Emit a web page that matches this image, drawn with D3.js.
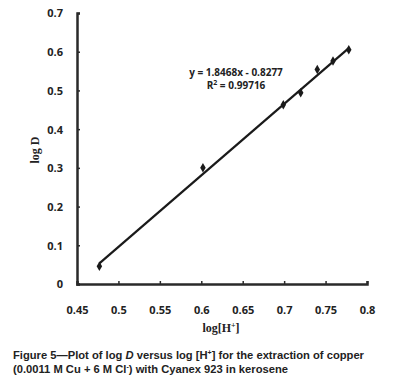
<!DOCTYPE html>
<html><head><meta charset="utf-8">
<script src="https://cdn.jsdelivr.net/npm/d3@7"></script>
<style>body{margin:0;background:#fff}svg{display:block}</style>
</head><body>
<script>
const xValues = [0.477, 0.602, 0.699, 0.720, 0.740, 0.759, 0.778];
const yValues = [0.046, 0.300, 0.463, 0.494, 0.554, 0.576, 0.605];
const fitSlope = 1.8468, fitIntercept = -0.8277;
const xTicks = [0.45, 0.5, 0.55, 0.6, 0.65, 0.7, 0.75, 0.8];
const yTicks = [0, 0.1, 0.2, 0.3, 0.4, 0.5, 0.6, 0.7];

const W = 400, H = 392;
const svg = d3.select("body").append("svg").attr("width", W).attr("height", H);
const x = d3.scaleLinear().domain([0.45, 0.8]).range([77, 367]);
const y = d3.scaleLinear().domain([0, 0.7]).range([284, 13]);
const axisColor = "#2a2a2a";

// axes
const xa = svg.append("g").attr("transform", "translate(0,284)")
  .call(d3.axisBottom(x).tickValues(xTicks).tickSize(-3).tickPadding(22).tickFormat(d3.format("")));
const ya = svg.append("g").attr("transform", "translate(77,0)")
  .call(d3.axisLeft(y).tickValues(yTicks).tickSize(-3).tickPadding(14).tickFormat(d3.format("")));
[xa, ya].forEach(g => {
  g.select(".domain").attr("stroke", axisColor).attr("stroke-width", 2.5);
  g.selectAll(".tick line").attr("stroke", axisColor).attr("stroke-width", 1.5);
  g.selectAll("text").attr("fill", "#222").style("font-family", "'Open Sans', Arial, sans-serif")
    .style("font-weight", "bold").style("font-size", "11px");
});
ya.selectAll("text").attr("dy", "0.35em");

// fit line
const xs = d3.extent(xValues);
svg.append("line")
  .attr("x1", x(xs[0])).attr("y1", y(fitSlope * xs[0] + fitIntercept))
  .attr("x2", x(xs[1])).attr("y2", y(fitSlope * xs[1] + fitIntercept))
  .attr("stroke", "#1a1a1a").attr("stroke-width", 2.2);

// markers
svg.selectAll("path.pt").data(xValues).join("path")
  .attr("class", "pt")
  .attr("d", d3.symbol(d3.symbolDiamond, 26))
  .attr("transform", (d, i) => `translate(${x(d)},${y(yValues[i])})`)
  .attr("fill", "#1a1a1a");

// equation
const eq = svg.append("g").style("font-family", "'Open Sans', Arial, sans-serif")
  .style("font-size", "10px").style("font-weight", "bold").attr("fill", "#222");
eq.append("text").attr("x", 236).attr("y", 76).attr("text-anchor", "middle").text("y = 1.8468x - 0.8277");
const r2 = eq.append("text").attr("x", 236).attr("y", 89).attr("text-anchor", "middle");
r2.append("tspan").text("R");
r2.append("tspan").attr("dy", -4).style("font-size", "7px").text("2");
r2.append("tspan").attr("dy", 4).text(" = 0.99716");

// axis titles
svg.append("text").attr("transform", "translate(39,150) rotate(-90)").attr("text-anchor", "middle")
  .style("font-family", "'Liberation Serif', 'Times New Roman', serif").style("font-weight", "bold")
  .style("font-size", "12px").attr("fill", "#222").text("log D");
const xt = svg.append("text").attr("x", 221).attr("y", 332).attr("text-anchor", "middle")
  .style("font-family", "'Liberation Serif', 'Times New Roman', serif").style("font-weight", "bold")
  .style("font-size", "12px").attr("fill", "#222");
xt.append("tspan").text("log[H");
xt.append("tspan").attr("dy", -4).style("font-size", "8px").text("+");
xt.append("tspan").attr("dy", 4).text("]");

// caption
const cap = svg.append("g").style("font-family", "'Liberation Sans', Arial, sans-serif")
  .style("font-size", "11.2px").style("font-weight", "bold").attr("fill", "#222");
const c1 = cap.append("text").attr("x", 13).attr("y", 359);
c1.append("tspan").text("Figure 5\u2014Plot of log ");
c1.append("tspan").style("font-style", "italic").text("D");
c1.append("tspan").text(" versus log [H");
c1.append("tspan").attr("dy", -4).style("font-size", "7px").text("+");
c1.append("tspan").attr("dy", 4).text("] for the extraction of copper");
const c2 = cap.append("text").attr("x", 13).attr("y", 373);
c2.append("tspan").text("(0.0011 M Cu + 6 M Cl");
c2.append("tspan").attr("dy", -4).style("font-size", "7px").text("-");
c2.append("tspan").attr("dy", 4).text(") with Cyanex 923 in kerosene");
</script>
</body></html>
